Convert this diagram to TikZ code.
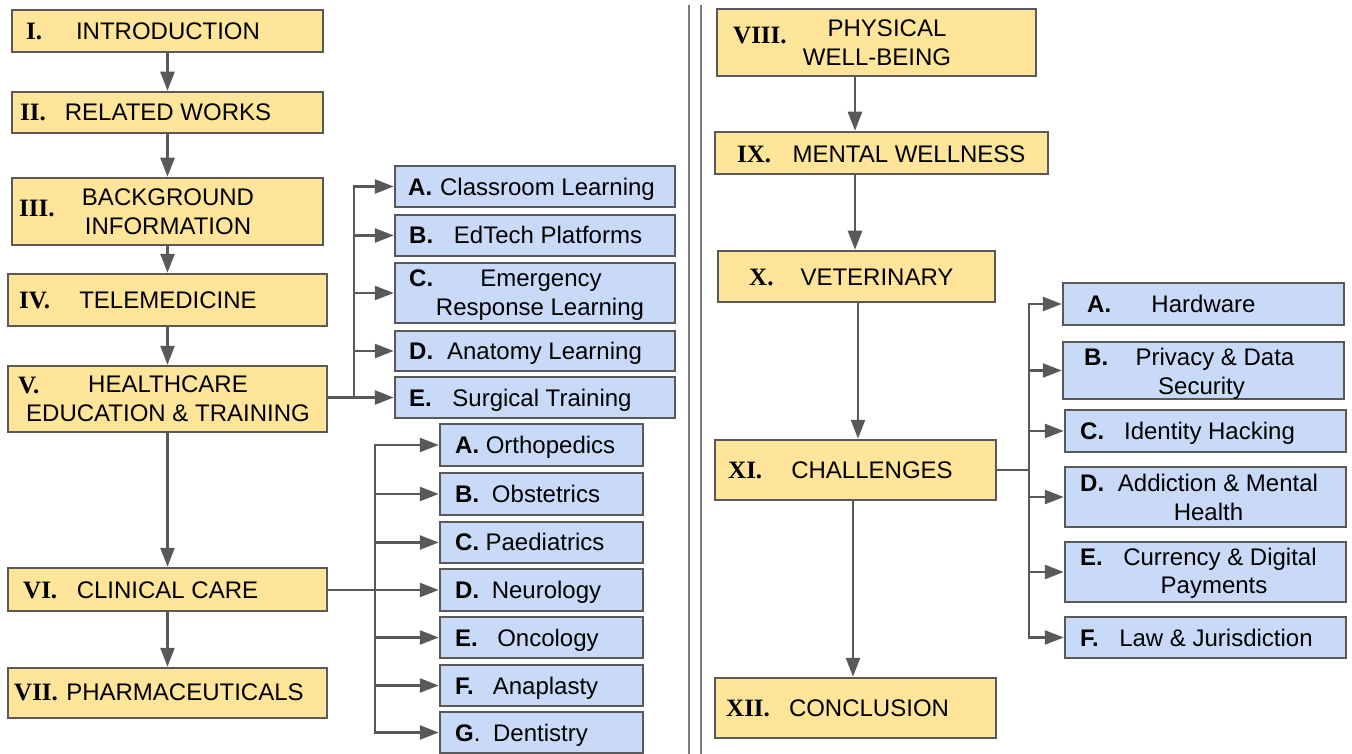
\documentclass[tikz,border=0pt]{standalone}
\usepackage{fontspec}
\setmainfont{Liberation Sans}
\newfontfamily\numfont{Liberation Serif}
\usetikzlibrary{arrows.meta}
\definecolor{yfill}{HTML}{FFE599}
\definecolor{bfill}{HTML}{C9DAF8}
\definecolor{edgec}{HTML}{595959}
\definecolor{sepc}{HTML}{7A7A7A}
\tikzset{
 ybox/.style={draw=edgec, fill=yfill, line width=2.5pt, inner sep=0pt, rectangle},
 bbox/.style={draw=edgec, fill=bfill, line width=2.5pt, inner sep=0pt, rectangle},
 txt/.style={inner sep=0pt, anchor=base, yshift=-8.6pt, font=\fontsize{24}{28}\selectfont, text=black},
 lett/.style={inner sep=0pt, anchor=base west, yshift=-8.6pt, font=\fontsize{24}{28}\selectfont\bfseries, text=black},
 num/.style={inner sep=0pt, anchor=base west, yshift=-8.4pt, font=\fontsize{25}{28}\selectfont\numfont\bfseries, text=black},
 conn/.style={draw=edgec, line width=2.5pt, line cap=rect},
 arr/.style={draw=edgec, line width=2.5pt, -{Triangle[length=19pt,width=14pt]}},
 sepline/.style={draw=sepc, line width=2pt},
}
\newcommand\mkbox[6]{\node[#1, minimum width=#5pt, minimum height=#6pt] (#2) at (#3,#4) {};}
\begin{document}
\begin{tikzpicture}[x=1pt,y=-1pt]
\useasboundingbox (0,0) rectangle (1352,754);
\fill[white] (0,0) rectangle (1352,754);

% separator
\coordinate (sa1) at (689,5); \coordinate (sa2) at (689,754);
\coordinate (sb1) at (701,5); \coordinate (sb2) at (701,754);
\draw[sepline] (sa1) -- (sa2);
\draw[sepline] (sb1) -- (sb2);

% left column boxes
\mkbox{ybox}{s1}{167.5}{31}{311}{42}
\mkbox{ybox}{s2}{167.5}{112.5}{311}{41}
\mkbox{ybox}{s3}{167.5}{211.5}{311}{67}
\mkbox{ybox}{s4}{167.5}{300}{319}{52}
\mkbox{ybox}{s5}{167.5}{399}{319}{66}
\mkbox{ybox}{s6}{167.5}{589.5}{319}{43}
\mkbox{ybox}{s7}{167.5}{693}{319}{50}
% right column boxes
\mkbox{ybox}{s8}{876.5}{42.5}{319}{67}
\mkbox{ybox}{s9}{881.5}{153}{333}{42}
\mkbox{ybox}{s10}{856.5}{276.5}{277}{51}
\mkbox{ybox}{s11}{855.5}{470}{281}{60}
\mkbox{ybox}{s12}{855.5}{708}{281}{60}
% education boxes
\mkbox{bbox}{e1}{535}{186.5}{280}{41}
\mkbox{bbox}{e2}{535}{235.5}{280}{41}
\mkbox{bbox}{e3}{535}{293}{280}{60}
\mkbox{bbox}{e4}{535}{351}{280}{40}
\mkbox{bbox}{e5}{535}{397.5}{280}{41}
% clinical boxes
\mkbox{bbox}{c1}{541.5}{445}{203}{42}
\mkbox{bbox}{c2}{541.5}{494}{203}{42}
\mkbox{bbox}{c3}{541.5}{542.5}{203}{41}
\mkbox{bbox}{c4}{541.5}{590}{203}{42}
\mkbox{bbox}{c5}{541.5}{637.5}{203}{41}
\mkbox{bbox}{c6}{541.5}{685.5}{203}{41}
\mkbox{bbox}{c7}{541.5}{732.5}{203}{41}
% challenge boxes
\mkbox{bbox}{h1}{1203.5}{304}{281}{42}
\mkbox{bbox}{h2}{1203.5}{370.5}{281}{57}
\mkbox{bbox}{h3}{1205.5}{431}{281}{42}
\mkbox{bbox}{h4}{1205.5}{497}{281}{60}
\mkbox{bbox}{h5}{1205.5}{572}{281}{60}
\mkbox{bbox}{h6}{1205.5}{637.5}{281}{41}

% left chain
\draw[arr] (s1.south) -- (s2.north);
\draw[arr] (s2.south) -- (s3.north);
\draw[arr] (s3.south) -- (s4.north);
\draw[arr] (s4.south) -- (s5.north);
\draw[arr] (s5.south) -- (s6.north);
\draw[arr] (s6.south) -- (s7.north);
% right chain
\coordinate (ra) at (855,0);
\coordinate (rb) at (858,0);
\coordinate (rc) at (853,0);
\draw[arr] (ra |- s8.south) -- (ra |- s9.north);
\draw[arr] (ra |- s9.south) -- (ra |- s10.north);
\draw[arr] (rb |- s10.south) -- (rb |- s11.north);
\draw[arr] (rc |- s11.south) -- (rc |- s12.north);

% education bus
\coordinate (eb) at (354,0);
\draw[conn] (eb |- e1.west) -- (eb |- e5.west);
\draw[arr] (eb |- e1.west) -- (e1.west);
\draw[arr] (eb |- e2.west) -- (e2.west);
\draw[arr] (eb |- e3.west) -- (e3.west);
\draw[arr] (eb |- e4.west) -- (e4.west);
\draw[arr] (s5.east |- e5.west) -- (e5.west);

% clinical bus
\coordinate (cb) at (375,0);
\draw[conn] (cb |- c1.west) -- (cb |- c7.west);
\draw[arr] (cb |- c1.west) -- (c1.west);
\draw[arr] (cb |- c2.west) -- (c2.west);
\draw[arr] (cb |- c3.west) -- (c3.west);
\draw[arr] (s6.east |- c4.west) -- (c4.west);
\draw[arr] (cb |- c5.west) -- (c5.west);
\draw[arr] (cb |- c6.west) -- (c6.west);
\draw[arr] (cb |- c7.west) -- (c7.west);

% challenges bus
\coordinate (hb) at (1029,0);
\draw[conn] (hb |- h1.west) -- (hb |- h6.west);
\draw[conn] (s11.east) -- (hb |- s11.east);
\draw[arr] (hb |- h1.west) -- (h1.west);
\draw[arr] (hb |- h2.west) -- (h2.west);
\draw[arr] (hb |- h3.west) -- (h3.west);
\draw[arr] (hb |- h4.west) -- (h4.west);
\draw[arr] (hb |- h5.west) -- (h5.west);
\draw[arr] (hb |- h6.west) -- (h6.west);

% left texts
\node[num] (n1) at (26,31) {I.};
\node[txt] (m1) at (168,31) {INTRODUCTION};
\node[num] (n2) at (20,112) {II.};
\node[txt] (m2) at (168,112) {RELATED WORKS};
\node[num] (n3) at (19,208) {III.};
\node[txt] (m3a) at (168,197) {BACKGROUND};
\node[txt] (m3b) at (168,226) {INFORMATION};
\node[num] (n4) at (19,300) {IV.};
\node[txt] (m4) at (168,300) {TELEMEDICINE};
\node[num] (n5) at (18,385) {V.};
\node[txt] (m5a) at (168,384) {HEALTHCARE};
\node[txt] (m5b) at (168,413) {EDUCATION \& TRAINING};
\node[num] (n6) at (23,590) {VI.};
\node[txt] (m6) at (167.5,590) {CLINICAL CARE};
\node[num] (n7) at (14,692) {VII.};
\node[txt] (m7) at (185,692) {PHARMACEUTICALS};

% right texts
\node[num] (n8) at (733,35) {VIII.};
\node[txt] (m8a) at (887,28) {PHYSICAL};
\node[txt] (m8b) at (877,57) {WELL-BEING};
\node[num] (n9) at (737,154) {IX.};
\node[txt] (m9) at (909,154) {MENTAL WELLNESS};
\node[num] (n10) at (749,277) {X.};
\node[txt] (m10) at (877,277) {VETERINARY};
\node[num] (n11) at (728,470) {XI.};
\node[txt] (m11) at (872,470) {CHALLENGES};
\node[num] (n12) at (726,708) {XII.};
\node[txt] (m12) at (869,708) {CONCLUSION};

% education texts
\node[lett] (le1) at (408,187) {A.};
\node[txt] (te1) at (547.5,187) {Classroom Learning};
\node[lett] (le2) at (409,235) {B.};
\node[txt] (te2) at (548,235) {EdTech Platforms};
\node[lett] (le3) at (409,278) {C.};
\node[txt] (te3a) at (541,278) {Emergency};
\node[txt] (te3b) at (540,307) {Response Learning};
\node[lett] (le4) at (409,351) {D.};
\node[txt] (te4) at (544.5,351) {Anatomy Learning};
\node[lett] (le5) at (409,398) {E.};
\node[txt] (te5) at (542,398) {Surgical Training};

% clinical texts
\node[lett] (lc1) at (455,445) {A.};
\node[txt] (tc1) at (550.5,445) {Orthopedics};
\node[lett] (lc2) at (455,494) {B.};
\node[txt] (tc2) at (546,494) {Obstetrics};
\node[lett] (lc3) at (455,542) {C.};
\node[txt] (tc3) at (545,542) {Paediatrics};
\node[lett] (lc4) at (455,590) {D.};
\node[txt] (tc4) at (546.5,590) {Neurology};
\node[lett] (lc5) at (455,638) {E.};
\node[txt] (tc5) at (548,638) {Oncology};
\node[lett] (lc6) at (455,686) {F.};
\node[txt] (tc6) at (545.5,686) {Anaplasty};
\node[lett] (lc7) at (455,733) {G\mdseries.};
\node[txt] (tc7) at (540.5,733) {Dentistry};

% challenge texts
\node[lett] (lh1) at (1087,304) {A.};
\node[txt] (th1) at (1203.5,304) {Hardware};
\node[lett] (lh2) at (1084,357) {B.};
\node[txt] (th2a) at (1215,357) {Privacy \& Data};
\node[txt] (th2b) at (1201.5,386) {Security};
\node[lett] (lh3) at (1080,431) {C.};
\node[txt] (th3) at (1209.5,431) {Identity Hacking};
\node[lett] (lh4) at (1080,483) {D.};
\node[txt] (th4a) at (1218,483) {Addiction \& Mental};
\node[txt] (th4b) at (1208.5,512) {Health};
\node[lett] (lh5) at (1080,557) {E.};
\node[txt] (th5a) at (1220,557) {Currency \& Digital};
\node[txt] (th5b) at (1214,585) {Payments};
\node[lett] (lh6) at (1080,638) {F.};
\node[txt] (th6) at (1216,638) {Law \& Jurisdiction};
\end{tikzpicture}
\end{document}
